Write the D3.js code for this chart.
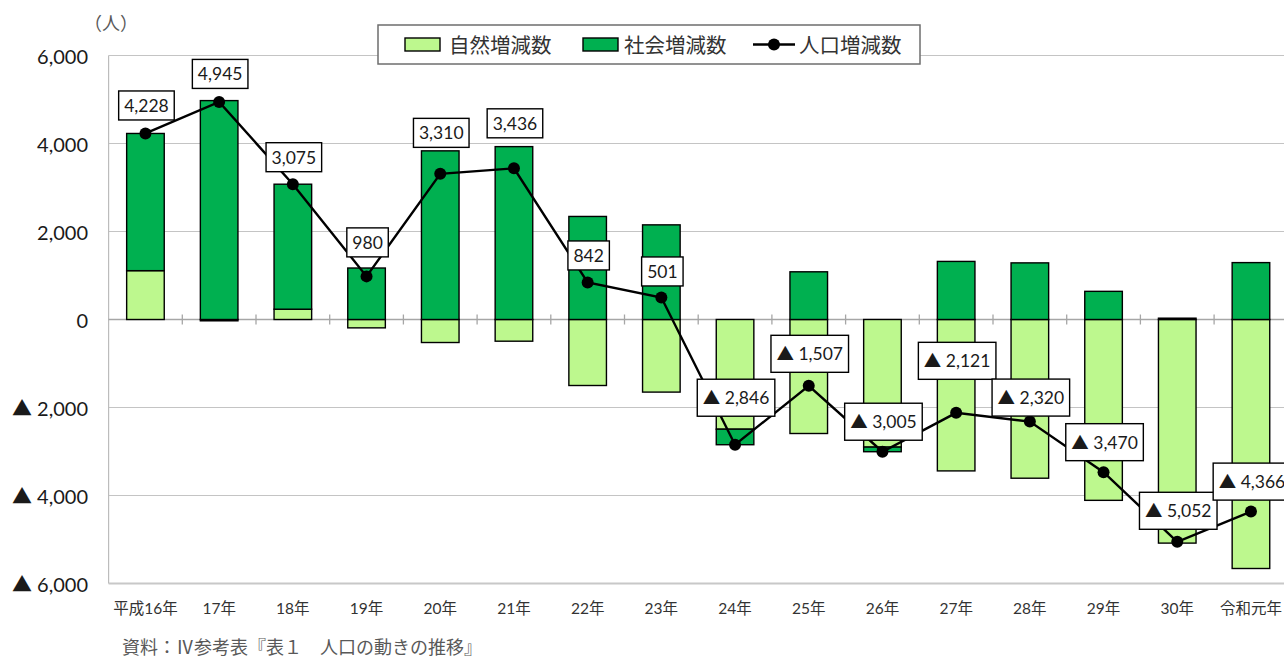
<!DOCTYPE html>
<html>
<head>
<meta charset="utf-8">
<script src="https://cdn.jsdelivr.net/npm/d3@7"></script>
<style>
  body { margin: 0; background: #fff; }
  svg { display: block; font-family: Lato, "Noto Sans CJK JP", sans-serif; }
</style>
</head>
<body>
<svg id="chart" width="1284" height="659"></svg>
<script>
// data
const categories = ["平成16年", "17年", "18年", "19年", "20年", "21年", "22年", "23年",
                    "24年", "25年", "26年", "27年", "28年", "29年", "30年", "令和元年"];
const naturalChange = [1110, -30, 234, -190, -523, -493, -1500, -1650,
                       -2493, -2591, -2900, -3441, -3607, -4110, -5082, -5659];
const socialChange = [3118, 4975, 2841, 1170, 3833, 3929, 2342, 2151,
                      -353, 1084, -105, 1320, 1287, 640, 30, 1293];
const totalChange = [4228, 4945, 3075, 980, 3310, 3436, 842, 501,
                     -2846, -1507, -3005, -2121, -2320, -3470, -5052, -4366];
const yTicks = [6000, 4000, 2000, 0, -2000, -4000, -6000];
const seriesNames = ["自然増減数", "社会増減数", "人口増減数"];

// how far each value label sits above its point (px) - hand placed in the original
const labelLift = [28, 28, 27, 34, 41, 45, 27, 26, 47, 32, 30, 52, 24, 30, 31, 30];

const colors = { natural: "#bdf88e", social: "#00b050" };

const svg = d3.select("#chart");

const x = d3.scaleBand().domain(categories).range([108.6, 1287.8])
    .paddingInner(0.49).paddingOuter(0.245);
const y = d3.scaleLinear().domain([-6000, 6000]).range([583.5, 55.5]);

let fmt = function(v) {
    return v < 0 ? "▲ " + d3.format(",")(-v) : d3.format(",")(v);
};

// gridlines
svg.append("g").selectAll("line")
    .data(yTicks.filter(d => d !== 0 && d !== -6000))
    .join("line")
    .attr("x1", 108.6).attr("x2", 1284)
    .attr("y1", d => y(d)).attr("y2", d => y(d))
    .attr("stroke", "#c4c4c4").attr("stroke-width", 1.2);

// bottom edge + left axis
svg.append("line")
    .attr("x1", 108.6).attr("x2", 1284).attr("y1", y(-6000)).attr("y2", y(-6000))
    .attr("stroke", "#c8c8c8").attr("stroke-width", 2.2);
svg.append("line")
    .attr("x1", 108.6).attr("x2", 108.6).attr("y1", y(6000)).attr("y2", y(-6000))
    .attr("stroke", "#bcbcbc").attr("stroke-width", 1.2);

// y labels
svg.append("g").selectAll("text")
    .data(yTicks)
    .join("text")
    .attr("x", 88).attr("y", d => y(d))
    .attr("text-anchor", "end").attr("dominant-baseline", "central")
    .attr("font-size", 20).attr("fill", "#1a1a1a")
    .text(fmt);

svg.append("text")
    .attr("x", 111).attr("y", 23)
    .attr("text-anchor", "middle").attr("dominant-baseline", "central")
    .attr("font-size", 18).attr("fill", "#595959")
    .text("（人）");

// zero axis with crossing ticks between categories
svg.append("line")
    .attr("x1", 108.6).attr("x2", 1284).attr("y1", y(0)).attr("y2", y(0))
    .attr("stroke", "#a6a6a6").attr("stroke-width", 1.3);
svg.append("g").selectAll("line")
    .data(categories.slice(1))
    .join("line")
    .attr("x1", d => x(d) - x.step() * x.paddingInner() / 2)
    .attr("x2", d => x(d) - x.step() * x.paddingInner() / 2)
    .attr("y1", y(0) - 5).attr("y2", y(0) + 5)
    .attr("stroke", "#a6a6a6").attr("stroke-width", 1.3);

// stacked bars
const rows = categories.map((c, i) => ({ cat: c, natural: naturalChange[i], social: socialChange[i] }));
const stacked = d3.stack().keys(["natural", "social"]).offset(d3.stackOffsetDiverging)(rows);

svg.append("g").selectAll("g")
    .data(stacked)
    .join("g")
    .attr("fill", s => colors[s.key])
    .selectAll("rect")
    .data(s => s)
    .join("rect")
    .attr("x", d => x(d.data.cat))
    .attr("width", x.bandwidth())
    .attr("y", d => y(Math.max(d[0], d[1])))
    .attr("height", d => Math.abs(y(d[0]) - y(d[1])))
    .attr("stroke", "#000").attr("stroke-width", 1.4);

// total line
const pts = categories.map((c, i) => [x(c) + x.bandwidth() / 2, y(totalChange[i])]);
svg.append("path")
    .attr("d", d3.line()(pts))
    .attr("fill", "none").attr("stroke", "#000").attr("stroke-width", 2.4);
svg.append("g").selectAll("circle")
    .data(pts)
    .join("circle")
    .attr("cx", d => d[0]).attr("cy", d => d[1]).attr("r", 6)
    .attr("fill", "#000");

// value labels
const lab = svg.append("g").selectAll("g")
    .data(totalChange)
    .join("g")
    .attr("transform", (d, i) => `translate(${pts[i][0] + 1},${pts[i][1] - labelLift[i]})`);
lab.append("rect").attr("class", "box")
    .attr("fill", "#fff").attr("stroke", "#000").attr("stroke-width", 1.4);
lab.append("text")
    .attr("text-anchor", "middle").attr("dominant-baseline", "central")
    .attr("font-size", 17.5).attr("fill", "#1a1a1a")
    .text(fmt);
lab.each(function(d) {
    const g = d3.select(this);
    const w = g.select("text").node().getComputedTextLength() + 11;
    const h = d < 0 ? 37 : 29;
    g.select("rect").attr("x", -w / 2).attr("y", -h / 2).attr("width", w).attr("height", h);
});

// legend
const leg = svg.append("g");
leg.append("rect")
    .attr("x", 378).attr("y", 25).attr("width", 542).attr("height", 39)
    .attr("fill", "#fff").attr("stroke", "#6e6e6e").attr("stroke-width", 1.5);
leg.append("rect").attr("x", 405).attr("y", 38).attr("width", 35).attr("height", 13)
    .attr("fill", colors.natural).attr("stroke", "#000").attr("stroke-width", 1.4);
leg.append("rect").attr("x", 583).attr("y", 38).attr("width", 35).attr("height", 13)
    .attr("fill", colors.social).attr("stroke", "#000").attr("stroke-width", 1.4);
leg.append("line").attr("x1", 753).attr("x2", 795).attr("y1", 44.5).attr("y2", 44.5)
    .attr("stroke", "#000").attr("stroke-width", 2.4);
leg.append("circle").attr("cx", 774).attr("cy", 44.5).attr("r", 6).attr("fill", "#000");
leg.selectAll("text")
    .data(seriesNames)
    .join("text")
    .attr("x", (d, i) => [449, 624, 799][i]).attr("y", 44.5)
    .attr("dominant-baseline", "central")
    .attr("font-size", 20.5).attr("fill", "#333")
    .text(d => d);

// category labels
svg.append("g").selectAll("text")
    .data(categories)
    .join("text")
    .attr("x", d => x(d) + x.bandwidth() / 2).attr("y", 608)
    .attr("text-anchor", "middle").attr("dominant-baseline", "central")
    .attr("font-size", 15.5).attr("fill", "#333")
    .text(d => d);

svg.append("text")
    .attr("x", 122).attr("y", 647)
    .attr("dominant-baseline", "central")
    .attr("font-size", 18).attr("fill", "#595959")
    .text("資料：Ⅳ参考表『表１　人口の動きの推移』");
</script>
</body>
</html>
